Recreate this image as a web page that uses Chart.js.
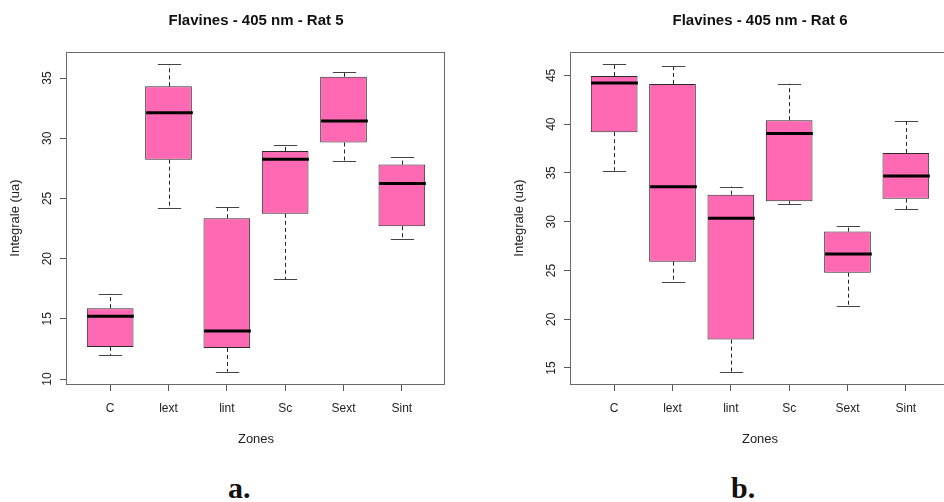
<!DOCTYPE html>
<html><head><meta charset="utf-8">
<script src="https://cdn.jsdelivr.net/npm/chart.js@4.4.0/dist/chart.umd.min.js"></script>
<style>
html,body{margin:0;padding:0;background:#fff;overflow:hidden;width:944px;height:502px}
#wrap{position:relative;width:944px;height:502px;overflow:hidden;background:#fff}
#c1{position:absolute;left:0;top:0}
#c2{position:absolute;left:472px;top:0}
.lab{position:absolute;top:472px;font:bold 30px "Liberation Serif",serif;color:#111;line-height:32px;white-space:nowrap}
</style></head><body>
<div id="wrap">
<canvas id="c1" width="472" height="470"></canvas>
<canvas id="c2" width="480" height="470"></canvas>
<div class="lab" style="left:228px">a.</div>
<div class="lab" style="left:731px">b.</div>
</div>
<script>
// ---- data ----
const categories = ['C', 'lext', 'lint', 'Sc', 'Sext', 'Sint'];

const rat5Lower  = [12.00, 24.17, 10.61, 18.28, 28.14, 21.67];
const rat5Q1     = [12.67, 28.22, 12.58, 23.72, 29.64, 22.69];
const rat5Median = [15.22, 32.11, 14.00, 28.25, 31.44, 26.25];
const rat5Q3     = [15.89, 34.31, 23.36, 28.94, 35.11, 27.81];
const rat5Upper  = [17.08, 36.14, 24.30, 29.44, 35.53, 28.44];

const rat6Lower  = [35.23, 23.85, 14.62, 31.84, 21.31, 31.26];
const rat6Q1     = [39.18, 25.90, 17.91, 32.11, 24.77, 32.36];
const rat6Median = [44.22, 33.59, 30.36, 39.04, 26.70, 34.68];
const rat6Q3     = [44.94, 44.12, 32.77, 40.41, 28.99, 37.05];
const rat6Upper  = [46.14, 46.00, 33.59, 44.15, 29.54, 40.34];

const rat5Ticks = [10, 15, 20, 25, 30, 35];
const rat6Ticks = [15, 20, 25, 30, 35, 40, 45];

const title5 = 'Flavines - 405 nm - Rat 5';
const title6 = 'Flavines - 405 nm - Rat 6';
const xTitle = 'Zones';
const yTitle = 'Integrale (ua)';

// ---- drawing ----
const FONT = 'Liberation Sans, Arial, sans-serif';

function makeChart(canvasId, st, yTicks, titleText, padLeft, padRight) {
  const lo = Math.min(...st.lower), hi = Math.max(...st.upper);
  const ext = (hi - lo) * 0.04;
  const n = categories.length;
  const xext = n * 0.04;

  const boxPlugin = {
    id: 'boxExtras',
    afterDatasetsDraw(chart) {
      const {ctx, chartArea: a, scales: {x, y}} = chart;
      ctx.save();
      const capHalf = x.getPixelForValue(0.2) - x.getPixelForValue(0);
      const boxHalf = x.getPixelForValue(0.4) - x.getPixelForValue(0);
      for (let i = 0; i < n; i++) {
        const xp = Math.round(x.getPixelForValue(i)) + 0.5;
        // whiskers
        ctx.strokeStyle = '#222';
        ctx.lineWidth = 1;
        ctx.setLineDash([4, 3]);
        ctx.beginPath();
        ctx.moveTo(xp, y.getPixelForValue(st.q3[i]));
        ctx.lineTo(xp, y.getPixelForValue(st.upper[i]));
        ctx.moveTo(xp, y.getPixelForValue(st.q1[i]));
        ctx.lineTo(xp, y.getPixelForValue(st.lower[i]));
        ctx.stroke();
        ctx.setLineDash([]);
        // caps
        ctx.strokeStyle = '#444';
        ctx.beginPath();
        const yu = Math.round(y.getPixelForValue(st.upper[i])) + 0.5;
        const yl = Math.round(y.getPixelForValue(st.lower[i])) + 0.5;
        ctx.moveTo(xp - capHalf, yu); ctx.lineTo(xp + capHalf, yu);
        ctx.moveTo(xp - capHalf, yl); ctx.lineTo(xp + capHalf, yl);
        ctx.stroke();
        // median
        ctx.strokeStyle = '#000';
        ctx.lineWidth = 3;
        const ym = y.getPixelForValue(st.median[i]);
        ctx.beginPath();
        ctx.moveTo(xp - boxHalf, ym); ctx.lineTo(xp + boxHalf, ym);
        ctx.stroke();
      }
      // plot frame
      ctx.strokeStyle = '#6a6a6a';
      ctx.lineWidth = 1;
      const l = Math.round(a.left) - 0.5, t = Math.round(a.top) + 0.5;
      const r = Math.round(a.right) - 0.5, b = Math.round(a.bottom) + 0.5;
      ctx.strokeRect(l, t, r - l, b - t);
      ctx.restore();
    }
  };

  return new Chart(document.getElementById(canvasId), {
    type: 'bar',
    data: {
      datasets: [{
        data: categories.map((c, i) => ({x: i, y: [st.q1[i], st.q3[i]]})),
        backgroundColor: '#FF69B4',
        borderColor: '#2a2a2a',
        borderWidth: 1,
        borderSkipped: false,
        barPercentage: 0.8,
        categoryPercentage: 1
      }]
    },
    options: {
      responsive: false,
      animation: false,
      events: [],
      layout: {padding: {left: padLeft, right: padRight, top: 0, bottom: 0}},
      plugins: {
        legend: {display: false},
        tooltip: {enabled: false},
        title: {
          display: true, text: titleText, fullSize: false,
          color: '#111',
          font: {family: FONT, size: 15, weight: 'bold'},
          padding: {top: 11.5, bottom: 22.5}
        }
      },
      scales: {
        x: {
          type: 'linear',
          offset: false,
          min: -0.5 - xext, max: n - 0.5 + xext,
          afterBuildTicks: s => { s.ticks = categories.map((c, i) => ({value: i})); },
          afterFit: s => { s.height = 86; },
          ticks: {
            autoSkip: false, maxRotation: 0, padding: 10,
            color: '#222', font: {family: FONT, size: 12},
            callback: v => categories[v]
          },
          grid: {offset: false, drawOnChartArea: false, drawTicks: true, tickLength: 7, color: '#555'},
          border: {display: false},
          title: {
            display: true, text: xTitle, color: '#222',
            font: {family: FONT, size: 13},
            padding: {top: 0, bottom: 23}
          }
        },
        y: {
          type: 'linear',
          min: lo - ext, max: hi + ext,
          afterBuildTicks: s => { s.ticks = yTicks.map(v => ({value: v})); },
          afterFit: s => { s.width = 67; },
          ticks: {
            autoSkip: false, minRotation: 90, maxRotation: 90,
            crossAlign: 'center', padding: 6,
            color: '#222', font: {family: FONT, size: 12}
          },
          grid: {drawOnChartArea: false, drawTicks: true, tickLength: 7, color: '#555'},
          border: {display: false},
          title: {
            display: true, text: yTitle, color: '#222',
            font: {family: FONT, size: 13},
            padding: {top: 7.2, bottom: 0}
          }
        }
      }
    },
    plugins: [boxPlugin]
  });
}

makeChart('c1', {lower: rat5Lower, q1: rat5Q1, median: rat5Median, q3: rat5Q3, upper: rat5Upper}, rat5Ticks, title5, 0, 27);
makeChart('c2', {lower: rat6Lower, q1: rat6Q1, median: rat6Median, q3: rat6Q3, upper: rat6Upper}, rat6Ticks, title6, 32, 3);
</script>
</body></html>
